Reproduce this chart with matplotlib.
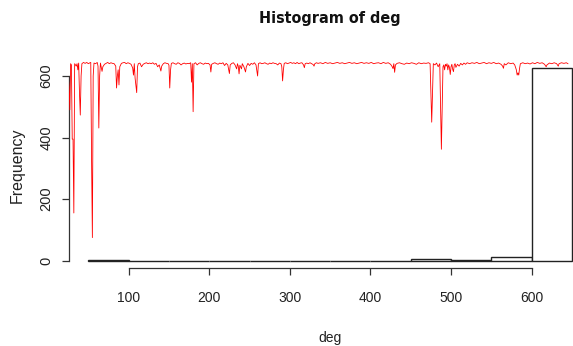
import matplotlib
matplotlib.use("Agg")
import matplotlib.pyplot as plt

# Histogram of deg (breaks of width 50 from 50 to 650)
bin_edges = [50, 100, 150, 200, 250, 300, 350, 400, 450, 500, 550, 600, 650]
bin_counts = [2, 0, 0, 0, 0, 0, 0, 0, 6, 3, 11, 625]

# red overlay line: deg value against its index
line_idx = [20, 24, 26, 27, 28, 29, 30, 31, 32, 33, 35, 36, 37, 38, 39, 40, 41, 42, 44, 46,
            48, 50, 52, 53, 54, 55, 56, 57, 59, 61, 62, 63, 64, 65, 67, 68, 70, 72, 74, 76,
            78, 80, 82, 84, 85, 86, 87, 88, 89, 91, 93, 95, 97, 99, 101, 103, 105, 106, 107, 108,
            110, 111, 112, 114, 116, 118, 120, 122, 124, 126, 128, 130, 132, 134, 136, 138, 140, 141, 143, 145,
            147, 149, 150, 151, 152, 153, 155, 157, 159, 161, 163, 165, 167, 169, 171, 173, 175, 177, 178, 179,
            180, 181, 183, 185, 187, 189, 191, 193, 195, 197, 199, 201, 202, 203, 205, 207, 209, 211, 213, 215,
            217, 219, 221, 223, 225, 226, 228, 230, 232, 234, 235, 236, 237, 238, 240, 241, 243, 245, 246, 248,
            250, 252, 254, 256, 258, 260, 261, 263, 265, 267, 269, 271, 273, 275, 277, 279, 281, 283, 285, 287,
            289, 290, 291, 292, 293, 295, 297, 299, 301, 303, 305, 307, 309, 311, 313, 315, 317, 318, 319, 321,
            323, 325, 327, 329, 330, 331, 333, 335, 338, 341, 344, 347, 350, 353, 356, 359, 362, 365, 368, 371,
            374, 377, 380, 383, 386, 389, 392, 395, 398, 401, 404, 407, 410, 413, 416, 419, 422, 425, 427, 428,
            429, 430, 431, 433, 436, 439, 442, 445, 448, 451, 454, 457, 460, 463, 466, 469, 472, 474, 475, 476,
            477, 478, 480, 482, 484, 486, 487, 488, 489, 490, 491, 492, 493, 494, 495, 496, 497, 498, 499, 500,
            501, 502, 503, 504, 505, 506, 508, 510, 512, 514, 516, 518, 520, 523, 526, 529, 532, 535, 538, 541,
            544, 547, 550, 553, 556, 559, 562, 564, 565, 566, 568, 571, 574, 577, 579, 581, 582, 583, 584, 585,
            586, 589, 592, 595, 598, 601, 604, 607, 610, 613, 616, 618, 619, 622, 625, 628, 631, 633, 634, 637,
            640, 643, 645]
line_deg = [600, 640, 565, 490, 640, 636, 395, 395, 155, 640, 632, 640, 620, 642, 545, 473, 600, 640, 644, 641,
            644, 640, 643, 644, 330, 75, 600, 642, 640, 644, 632, 431, 600, 642, 615, 630, 638, 641, 644, 640,
            643, 641, 640, 632, 561, 600, 620, 571, 630, 641, 643, 644, 640, 643, 641, 638, 626, 603, 640, 593,
            546, 630, 640, 642, 630, 638, 641, 643, 640, 642, 640, 643, 638, 641, 630, 636, 616, 632, 640, 643,
            641, 640, 635, 561, 620, 641, 643, 640, 638, 643, 641, 636, 640, 642, 639, 641, 640, 643, 580, 640,
            484, 640, 643, 636, 641, 643, 640, 638, 642, 640, 641, 636, 613, 638, 641, 643, 640, 638, 642, 640,
            643, 634, 641, 636, 608, 636, 641, 643, 636, 623, 640, 632, 607, 635, 623, 640, 630, 613, 630, 641,
            634, 641, 638, 643, 636, 600, 640, 643, 640, 641, 643, 640, 638, 642, 640, 643, 641, 640, 636, 642,
            640, 630, 584, 620, 641, 643, 640, 642, 644, 641, 643, 640, 644, 640, 642, 643, 636, 627, 640, 642,
            640, 643, 640, 637, 632, 640, 643, 641, 643, 640, 644, 641, 643, 640, 642, 644, 641, 643, 640, 642,
            644, 641, 643, 640, 642, 644, 641, 643, 641, 644, 640, 642, 643, 640, 644, 641, 643, 638, 630, 624,
            640, 612, 636, 641, 643, 640, 638, 642, 640, 643, 641, 638, 643, 640, 642, 641, 643, 640, 545, 450,
            545, 640, 636, 642, 630, 640, 500, 362, 500, 630, 636, 620, 638, 632, 640, 620, 636, 628, 605, 630,
            638, 622, 614, 636, 640, 628, 638, 632, 641, 636, 642, 638, 643, 640, 643, 641, 644, 640, 642, 644,
            640, 643, 641, 644, 640, 642, 638, 632, 625, 640, 636, 643, 640, 642, 636, 620, 603, 610, 603, 625,
            640, 643, 640, 642, 639, 643, 640, 644, 641, 643, 638, 630, 636, 642, 640, 643, 640, 632, 640, 643,
            641, 643, 640]

x_ticks = [100, 200, 300, 400, 500, 600]
y_ticks = [0, 200, 400, 600]

FONT = ["Liberation Sans", "DejaVu Sans"]

W, H = 573, 346
fig = plt.figure(figsize=(W / 100, H / 100), dpi=100)
fig.patch.set_facecolor("white")

# axes in pixel terms (right part runs past the image edge, like the reference crop)
left_px, right_px, top_px, bot_px = 69, 591.3, 60.6, 268.4
ax = fig.add_axes([left_px / W, 1 - bot_px / H, (right_px - left_px) / W, (bot_px - top_px) / H])
ax.set_xlim(26, 674)
ax.set_ylim(-25, 650)
ax.patch.set_alpha(0)

widths = [bin_edges[i + 1] - bin_edges[i] for i in range(len(bin_counts))]
ax.bar(bin_edges[:-1], bin_counts, width=widths, align="edge",
       facecolor="white", edgecolor="#222222", linewidth=1.0, zorder=2)
ax.plot(line_idx, line_deg, color="#ff0000", linewidth=0.6, zorder=3)

for s in ["top", "right"]:
    ax.spines[s].set_visible(False)
ax.spines["left"].set_bounds(0, 600)
ax.spines["bottom"].set_bounds(100, 600)
for s in ["left", "bottom"]:
    ax.spines[s].set_color("#333333")
    ax.spines[s].set_linewidth(0.9)

ax.set_xticks(x_ticks)
ax.set_yticks(y_ticks)
ax.tick_params(axis="both", length=5, width=0.9, color="#333333")
ax.tick_params(axis="x", pad=11)
ax.tick_params(axis="y", pad=6)
ax.set_xticklabels([str(v) for v in x_ticks], family=FONT, fontsize=10, color="#222222")
ax.set_yticklabels([str(v) for v in y_ticks], family=FONT, fontsize=10.5,
                   rotation=90, va="center", color="#222222")

fig.text(330 / W, 1 - 18 / H, "Histogram of deg", ha="center", va="center",
         family=["DejaVu Sans"], stretch="condensed", fontweight="bold", fontsize=11.5, color="#111111")
fig.text(330 / W, 1 - 338 / H, "deg", ha="center", va="center",
         family=FONT, fontsize=10, color="#222222")
fig.text(17 / W, 1 - 165 / H, "Frequency", ha="center", va="center", rotation=90,
         family=FONT, fontsize=11.5, color="#222222")

fig.savefig("out.png", dpi=100)
